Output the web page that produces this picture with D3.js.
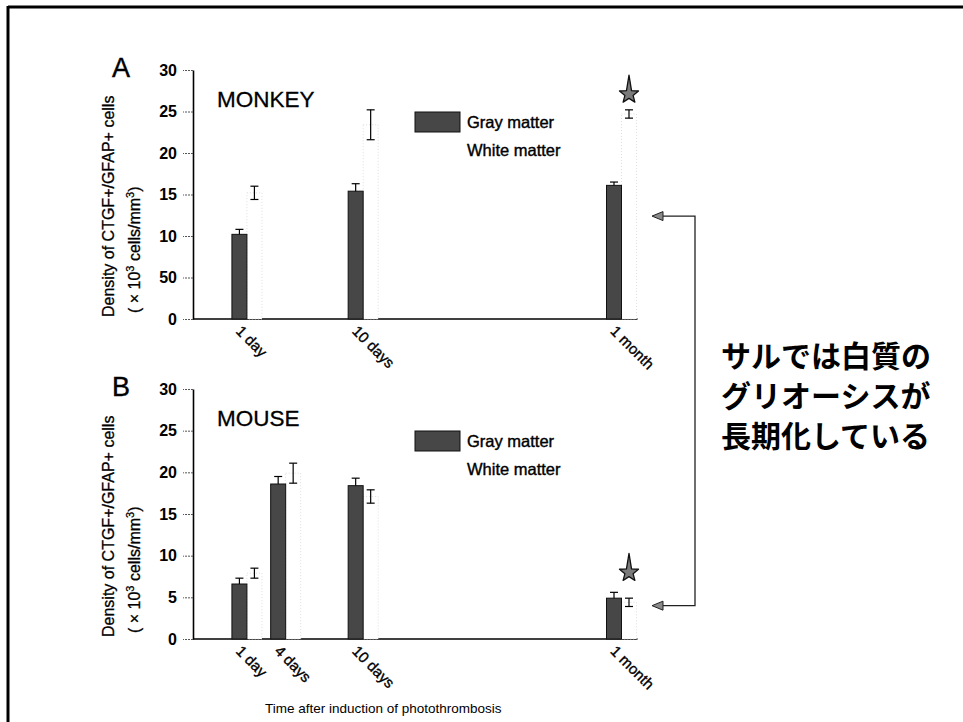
<!DOCTYPE html>
<html>
<head>
<meta charset="utf-8">
<script src="https://cdn.jsdelivr.net/npm/d3@7"></script>
<style>
  html, body { margin: 0; padding: 0; background: #fff; }
  svg { display: block; }
  text { font-family: "Liberation Sans", Arial, Helvetica, sans-serif; fill: #000; }
</style>
</head>
<body>
<div id="chart"></div>
<script>
// ---------------- data ----------------
const yTicks = [0, 5, 10, 15, 20, 25, 30];
const monkeyTickLabels = ["0", "50", "10", "15", "20", "25", "30"];
const mouseTickLabels = ["0", "5", "10", "15", "20", "25", "30"];

const monkeyDays = [1, 10, 30];
const monkeyLabels = ["1 day", "10 days", "1 month"];
const monkeyGray = [10.2, 15.4, 16.1];
const monkeyGrayErr = [0.6, 0.9, 0.4];
const monkeyWhite = [15.2, 23.4, 24.7];
const monkeyWhiteErr = [0.8, 1.8, 0.5];
const monkeySig = [null, null, 27.1];

const mouseDays = [1, 4, 10, 30];
const mouseLabels = ["1 day", "4 days", "10 days", "1 month"];
const mouseGray = [6.6, 18.6, 18.4, 4.9];
const mouseGrayErr = [0.7, 0.9, 0.9, 0.7];
const mouseWhite = [7.9, 19.9, 17.1, 4.4];
const mouseWhiteErr = [0.6, 1.2, 0.8, 0.5];
const mouseSig = [null, null, null, 8.0];

const legendLabels = ["Gray matter", "White matter"];
const yTitle1 = "Density of CTGF+/GFAP+ cells";
const xTitle = "Time after induction of photothrombosis";
const noteLines = ["サルでは白質の", "グリオーシスが", "長期化している"];
const arrowValues = [12.4, 4.0]; // arrow targets: monkey panel, mouse panel

// ---------------- layout ----------------
const W = 963, H = 722;
const svg = d3.select("#chart").append("svg").attr("width", W).attr("height", H);

const GRAY = "#474747", DARK = "#111";
const barW = 15;
const axisX = 193;
const x = d3.scaleLinear().domain([0, 30]).range([234, 621.5]);

// frame (left + top)
svg.append("line").attr("x1", 8).attr("y1", 7).attr("x2", W).attr("y2", 7)
  .attr("stroke", "#000").attr("stroke-width", 3);
svg.append("line").attr("x1", 8).attr("y1", 6).attr("x2", 8).attr("y2", H)
  .attr("stroke", "#000").attr("stroke-width", 3);

const panels = [
  { letter: "A", title: "MONKEY", top: 70, bottom: 319, days: monkeyDays, labels: monkeyLabels,
    gray: monkeyGray, grayErr: monkeyGrayErr, white: monkeyWhite, whiteErr: monkeyWhiteErr,
    sig: monkeySig, tickLabels: monkeyTickLabels },
  { letter: "B", title: "MOUSE", top: 389, bottom: 639, days: mouseDays, labels: mouseLabels,
    gray: mouseGray, grayErr: mouseGrayErr, white: mouseWhite, whiteErr: mouseWhiteErr,
    sig: mouseSig, tickLabels: mouseTickLabels }
];

function starPath(cx, cy, r, rIn, spike) {
  const pts = [];
  for (let i = 0; i < 10; i++) {
    const a = -Math.PI / 2 + i * Math.PI / 5;
    let rr = (i % 2 === 0) ? r : rIn;
    if (i === 0) rr = spike;
    pts.push([cx + rr * Math.cos(a), cy + rr * Math.sin(a)]);
  }
  return "M" + pts.map(p => p.join(",")).join("L") + "Z";
}

const yScales = [];
panels.forEach((p, pi) => {
  const y = d3.scaleLinear().domain([0, 30]).range([p.bottom, p.top]);
  yScales.push(y);
  const g = svg.append("g");

  // y axis
  const ax = g.append("g").attr("transform", `translate(${axisX},0)`)
    .call(d3.axisLeft(y).tickValues(yTicks)
      .tickFormat((d, i) => p.tickLabels[i]).tickSize(10).tickSizeOuter(0).tickPadding(6));
  ax.select(".domain").attr("stroke", "#000").attr("stroke-width", 1.6);
  ax.selectAll(".tick line").attr("stroke", "#555").attr("stroke-width", 1).attr("stroke-dasharray", "2,1");
  ax.selectAll(".tick text").style("font-family", "'Liberation Sans', Arial, sans-serif")
    .style("font-size", "16px").style("font-weight", "bold").attr("fill", "#000");

  // x axis line
  g.append("line").attr("x1", axisX).attr("x2", x(30) + barW + 1)
    .attr("y1", y(0)).attr("y2", y(0)).attr("stroke", "#000").attr("stroke-width", 1.6);

  const idx = d3.range(p.days.length);

  // white bars
  g.selectAll(".wbar").data(idx).join("rect").attr("class", "wbar")
    .attr("x", i => x(p.days[i])).attr("width", barW)
    .attr("y", i => y(p.white[i])).attr("height", i => y(0) - y(p.white[i]))
    .attr("fill", "#fff").attr("stroke", "#d6d6d6").attr("stroke-width", 0.8).attr("stroke-dasharray", "1,2");

  // gray bars
  g.selectAll(".gbar").data(idx).join("rect").attr("class", "gbar")
    .attr("x", i => x(p.days[i]) - barW).attr("width", barW)
    .attr("y", i => y(p.gray[i])).attr("height", i => y(0) - y(p.gray[i]))
    .attr("fill", GRAY).attr("stroke", DARK).attr("stroke-width", 1);

  // gray error bars (upper)
  idx.forEach(i => {
    const cx = x(p.days[i]) - barW / 2;
    const y1 = y(p.gray[i]), y2 = y(p.gray[i] + p.grayErr[i]);
    g.append("line").attr("x1", cx).attr("x2", cx).attr("y1", y1).attr("y2", y2).attr("stroke", "#000").attr("stroke-width", 1.2);
    g.append("line").attr("x1", cx - 4).attr("x2", cx + 4).attr("y1", y2).attr("y2", y2).attr("stroke", "#000").attr("stroke-width", 1.2);
  });
  // white error bars (full)
  idx.forEach(i => {
    const cx = x(p.days[i]) + barW / 2;
    const y1 = y(p.white[i] - p.whiteErr[i]), y2 = y(p.white[i] + p.whiteErr[i]);
    g.append("line").attr("x1", cx).attr("x2", cx).attr("y1", y1).attr("y2", y2).attr("stroke", "#000").attr("stroke-width", 1.2);
    [y1, y2].forEach(yy => g.append("line").attr("x1", cx - 4).attr("x2", cx + 4).attr("y1", yy).attr("y2", yy).attr("stroke", "#000").attr("stroke-width", 1.2));
  });

  // significance stars
  idx.forEach(i => {
    if (p.sig[i] == null) return;
    const cx = x(p.days[i]) + barW / 2;
    g.append("path").attr("d", starPath(cx, y(p.sig[i]), 10, 4.3, 19))
      .attr("fill", "#7a7a7a").attr("stroke", "#111").attr("stroke-width", 1.3).attr("stroke-linejoin", "round");
  });

  // x tick labels (rotated)
  g.selectAll(".xl").data(idx).join("text").attr("class", "xl")
    .attr("transform", i => `translate(${x(p.days[i]) - barW + 3},${y(0) + 13}) rotate(45)`)
    .style("font-size", "15px").attr("stroke", "#000").attr("stroke-width", 0.35)
    .text(i => p.labels[i]);

  // panel letter and title
  g.append("text").attr("x", 112).attr("y", p.top + 7).style("font-size", "27px")
    .attr("stroke", "#000").attr("stroke-width", 0.4).text(p.letter);
  g.append("text").attr("x", 217).attr("y", p.top + 37).style("font-size", "22.5px")
    .attr("stroke", "#000").attr("stroke-width", 0.3).text(p.title);

  // legend
  g.append("rect").attr("x", 415).attr("y", p.top + 42).attr("width", 45).attr("height", 20)
    .attr("fill", GRAY).attr("stroke", DARK).attr("stroke-width", 1);
  legendLabels.forEach((t, k) => {
    g.append("text").attr("x", 467).attr("y", p.top + 58 + k * 28)
      .style("font-size", "16.5px").attr("stroke", "#000").attr("stroke-width", 0.4).text(t);
  });

  // y title
  const yt = g.append("g").attr("transform", `translate(0,${p.bottom - 2})`);
  yt.append("text").attr("transform", "translate(114,0) rotate(-90)")
    .style("font-size", "16px").attr("stroke", "#000").attr("stroke-width", 0.3).text(yTitle1);
  const t2 = yt.append("text").attr("transform", "translate(140,-4) rotate(-90)")
    .style("font-size", "16px").attr("stroke", "#000").attr("stroke-width", 0.3);
  t2.append("tspan").text("( × 10");
  t2.append("tspan").attr("dy", -6).style("font-size", "11px").text("3");
  t2.append("tspan").attr("dy", 6).text(" cells/mm");
  t2.append("tspan").attr("dy", -6).style("font-size", "11px").text("3");
  t2.append("tspan").attr("dy", 6).text(")");
});

// x title
svg.append("text").attr("x", 265).attr("y", 713)
  .style("font-size", "13.5px").text(xTitle);

// bracket arrows
const ya = yScales[0](arrowValues[0]), yb = yScales[1](arrowValues[1]);
const bx = 695, tipX = 652, headL = 11;
svg.append("path").attr("d", `M${tipX + headL},${ya}H${bx}V${yb}H${tipX + headL}`)
  .attr("fill", "none").attr("stroke", "#222").attr("stroke-width", 1.3);
[ya, yb].forEach(yy => {
  svg.append("path").attr("d", `M${tipX},${yy}L${tipX + headL},${yy - 4.5}L${tipX + headL},${yy + 4.5}Z`)
    .attr("fill", "#8a8a8a").attr("stroke", "#222").attr("stroke-width", 1);
});

// Japanese note
const note = svg.append("text").attr("x", 721).attr("y", 367)
  .style("font-family", "'Noto Sans CJK JP', sans-serif").style("font-size", "30px").style("font-weight", "bold");
noteLines.forEach((l, k) => note.append("tspan").attr("x", 721).attr("y", 367 + k * 40).text(l));
</script>
</body>
</html>
